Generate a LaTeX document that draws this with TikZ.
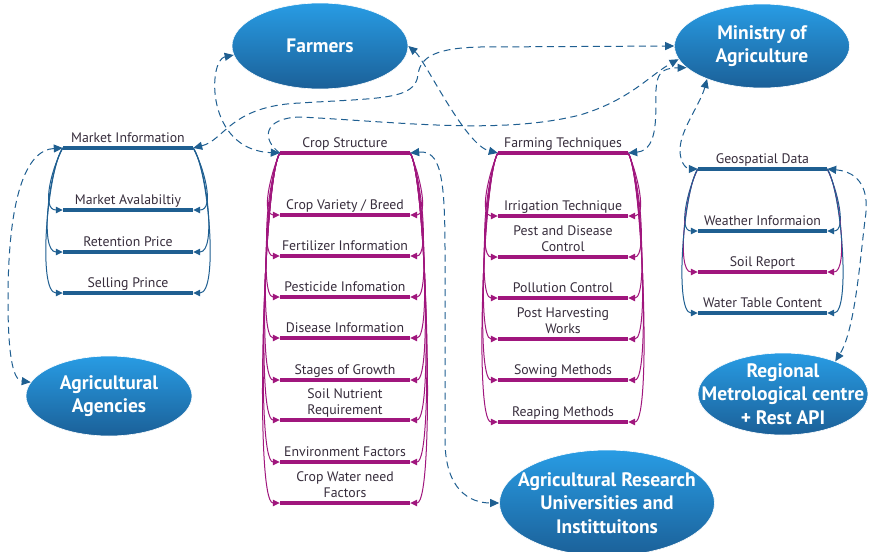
\documentclass[tikz,border=0pt]{standalone}
\usepackage{fontspec}
\setmainfont{PT Sans}
\usetikzlibrary{arrows.meta,shapes.geometric}
\definecolor{myblue}{RGB}{31,95,145}
\definecolor{mymag}{RGB}{160,22,125}
\definecolor{eltop}{RGB}{40,156,228}
\definecolor{elbot}{RGB}{27,96,152}
\definecolor{txt}{RGB}{55,45,60}
\newcommand\mkbar[6]{%
  \node[barsty, fill=#5, minimum width=#4pt] (#1) at (#2,#3) {};
  \node[lbl] (#1t) at ([yshift=-2pt]#1.north) {#6\strut};}
\newcommand\mkell[6]{%
  \node[ell, minimum width=#4pt, minimum height=#5pt] (#1) at (#2,#3) {};
  \node[elltxt] (#1txt) at (#1.center) {#6};}
\begin{document}
\begin{tikzpicture}[x=1pt,y=-1pt,
  barsty/.style={rectangle, inner sep=0pt, minimum height=3.5pt},
  lbl/.style={anchor=south, inner sep=0.3pt, align=center, text=txt, font=\fontsize{13.8}{16.5}\selectfont},
  ell/.style={ellipse, inner sep=0pt, top color=eltop, bottom color=elbot, draw=white, line width=0.6pt},
  elltxt/.style={inner sep=0pt, text=white, align=center, font=\bfseries\fontsize{19.5}{23.5}\selectfont},
  dsh/.style={myblue, line width=1pt, dash pattern=on 7pt off 4.5pt, arrows={Triangle[length=9pt,width=8pt]-Triangle[length=9pt,width=8pt]}},
  dshend/.style={myblue, line width=1pt, dash pattern=on 7pt off 4.5pt, arrows={-Triangle[length=9pt,width=8pt]}},
  sol/.style={line width=1pt, arrows={-Triangle[length=7pt,width=6.5pt]}}]
\fill[white] (0,0) rectangle (871,552);
\useasboundingbox (0,0) rectangle (871,552);

% ellipses
\mkell{farmers}{320}{46}{176}{86}{Farmers}
\mkell{ministry}{762}{46}{175}{84}{Ministry of\\Agriculture}
\mkell{agencies}{109}{396}{166}{80}{Agricultural\\Agencies}
\mkell{research}{607}{503}{215}{106}{Agricultural Research\\Universities and\\Instittuitons}
\mkell{regional}{783}{394}{170}{82}{Regional\\Metrological centre\\+ Rest API}

% left group
\mkbar{mi}{128}{148}{130}{myblue}{Market Information}
\mkbar{ma}{128}{210}{130}{myblue}{Market Avalabiltiy}
\mkbar{rp}{128}{252}{130}{myblue}{Retention Price}
\mkbar{sp}{128}{293}{130}{myblue}{Selling Prince}

% crop group
\mkbar{cs}{345}{153}{130}{mymag}{Crop Structure}
\mkbar{cv}{345}{215}{130}{mymag}{Crop Variety / Breed}
\mkbar{fi}{345}{256}{130}{mymag}{Fertilizer Information}
\mkbar{pi}{345}{297}{130}{mymag}{Pesticide Infomation}
\mkbar{di}{345}{338}{130}{mymag}{Disease Information}
\mkbar{sg}{345}{380}{130}{mymag}{Stages of Growth}
\mkbar{sn}{345}{420}{130}{mymag}{Soil Nutrient\\Requirement}
\mkbar{ef}{345}{462}{130}{mymag}{Environment Factors}
\mkbar{cw}{345}{503}{130}{mymag}{Crop Water need\\Factors}

% farming group
\mkbar{ft}{563}{153}{130}{mymag}{Farming Techniques}
\mkbar{it}{563}{216}{130}{mymag}{Irrigation Technique}
\mkbar{pd}{563}{257}{130}{mymag}{Pest and Disease\\Control}
\mkbar{pc}{563}{298}{130}{mymag}{Pollution Control}
\mkbar{ph}{563}{339}{130}{mymag}{Post Harvesting\\Works}
\mkbar{sm}{563}{380}{130}{mymag}{Sowing Methods}
\mkbar{rm}{563}{422}{130}{mymag}{Reaping Methods}

% right group
\mkbar{gd}{762.5}{169}{129}{myblue}{Geospatial Data}
\mkbar{wi}{762.5}{231}{129}{myblue}{Weather Informaion}
\mkbar{sr}{762.5}{272}{129}{mymag}{Soil Report}
\mkbar{wt}{762.5}{313}{129}{myblue}{Water Table Content}

% solid hierarchy curves
\foreach \t [count=\k] in {ma,rp,sp} {
  \draw[sol, myblue] (mi.west) .. controls +(-9-2*\k,20) and +(-20-2*\k,0) .. (\t.west);
  \draw[sol, myblue] (mi.east) .. controls +(9+2*\k,20) and +(20+2*\k,0) .. (\t.east);
}
\foreach \t [count=\k] in {cv,fi,pi,di,sg,sn,ef,cw} {
  \draw[sol, mymag] (cs.west) .. controls +(-8-\k,20) and +(-18-\k,0) .. (\t.west);
  \draw[sol, mymag] (cs.east) .. controls +(8+\k,20) and +(18+\k,0) .. (\t.east);
}
\foreach \t [count=\k] in {it,pd,pc,ph,sm,rm} {
  \draw[sol, mymag] (ft.west) .. controls +(-8-\k,20) and +(-18-\k,0) .. (\t.west);
  \draw[sol, mymag] (ft.east) .. controls +(8+\k,20) and +(18+\k,0) .. (\t.east);
}
\foreach \t/\c [count=\k] in {wi/myblue,sr/mymag,wt/myblue} {
  \draw[sol, \c] (gd.west) .. controls +(-8-2*\k,20) and +(-18-2*\k,0) .. (\t.west);
  \draw[sol, \c] (gd.east) .. controls +(8+2*\k,20) and +(18+2*\k,0) .. (\t.east);
}

% dashed connectors
\draw[dsh] (mi.west) .. controls (25,150) and (8,200) .. (8,300) .. controls (8,350) and (12,380) .. (agencies.170);
\draw[dsh] (farmers.186) .. controls (208,60) and (205,150) .. (cs.west);
\draw[dsh] (farmers.east) .. controls (425,60) and (465,145) .. (ft.west);
\draw[dsh] (mi.east) .. controls (225,140) and (230,106) .. (300,103) .. controls (380,98) and (415,100) .. (418,75) .. controls (420,55) and (440,48) .. (480,47) -- (ministry.west);
\draw[dshend] (cs.west) .. controls (262,140) and (262,118) .. (300,117) .. controls (400,122) and (500,135) .. (580,115) .. controls (630,100) and (650,75) .. (ministry.189);
\draw[dsh] (ft.east) .. controls (660,150) and (655,110) .. (656,90) .. controls (657,75) and (660,68) .. (ministry.196);
\draw[dsh] (ministry.211) .. controls (700,105) and (680,130) .. (680,150) .. controls (680,165) and (688,169) .. (gd.west);
\draw[dsh] (gd.east) .. controls (860,172) and (870,190) .. (865,220) .. controls (860,260) and (855,330) .. (regional.32);
\draw[dsh] (cs.east) .. controls (440,150) and (445,175) .. (445,250) -- (445,440) .. controls (445,490) and (470,503) .. (research.west);
\end{tikzpicture}
\end{document}
